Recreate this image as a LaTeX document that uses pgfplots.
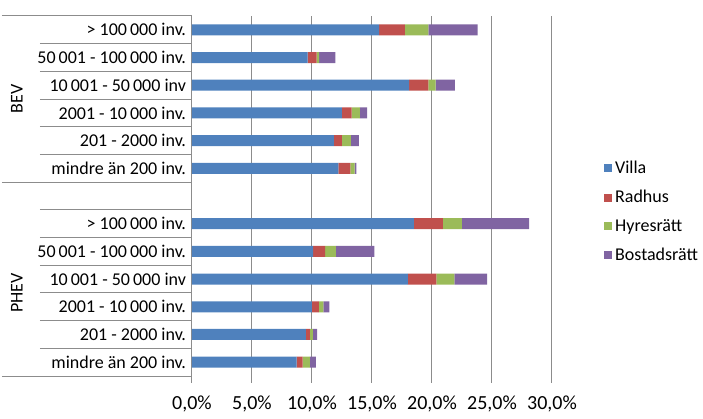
\documentclass[border=0pt]{standalone}
\usepackage{fontspec}
\setmainfont{Carlito}
\usepackage{pgfplots}
\pgfplotsset{compat=1.18}

\definecolor{villa}{HTML}{4F81BD}
\definecolor{radhus}{HTML}{C0504D}
\definecolor{hyres}{HTML}{9BBB59}
\definecolor{bostad}{HTML}{8064A2}
\definecolor{gridgray}{HTML}{8C8C8C}

\begin{document}
\begin{tikzpicture}
\path[use as bounding box] (-144pt,-31.5pt) rectangle (383.25pt,282pt);
\begin{axis}[
    at={(0,0)}, anchor=south west,
    scale only axis,
    width=270pt, height=270pt,
    xbar stacked,
    bar width=8.25pt,
    xmin=0, xmax=30,
    ymin=-0.5, ymax=12.5,
    clip=false,
    axis line style={draw=none},
    xtick={0,5,10,15,20,25,30},
    xticklabels={{0,0\%},{5,0\%},{10,0\%},{15,0\%},{20,0\%},{25,0\%},{30,0\%}},
    xtick pos=bottom,
    xtick align=outside,
    major tick length=5pt,
    xtick style={gridgray, line width=0.75pt},
    xticklabel style={font=\fontsize{15}{17}\selectfont, yshift=-6pt},
    ytick={0,1,2,3,4,5,7,8,9,10,11,12},
    yticklabels={mindre än 200 inv., 201 - 2000 inv., 2001 - 10\,000 inv., 10\,001 - 50\,000 inv, 50\,001 - 100\,000 inv., > 100\,000 inv.,
                 mindre än 200 inv., 201 - 2000 inv., 2001 - 10\,000 inv., 10\,001 - 50\,000 inv, 50\,001 - 100\,000 inv., > 100\,000 inv.},
    ytick style={draw=none},
    yticklabel style={font=\fontsize{13.5}{15}\selectfont, anchor=east, xshift=-1pt},
    xmajorgrids,
    major grid style={gridgray, line width=0.75pt},
    legend style={draw=none, at={(1.145,0.605)}, anchor=north west,
        font=\fontsize{13.5}{15}\selectfont, row sep=7pt,
        legend cell align=left, inner sep=0pt},
    legend image code/.code={\fill[#1] (0pt,-3pt) rectangle (6pt,3pt);},
]
\addplot[fill=villa, draw=none] coordinates {
    (8.72,0) (9.5,1) (10.0,2) (18.0,3) (10.1,4) (18.5,5)
    (12.2,7) (11.83,8) (12.5,9) (18.1,10) (9.64,11) (15.6,12)};
\addplot[fill=radhus, draw=none] coordinates {
    (0.5,0) (0.33,1) (0.58,2) (2.36,3) (1.0,4) (2.4,5)
    (1.0,7) (0.67,8) (0.8,9) (1.6,10) (0.75,11) (2.15,12)};
\addplot[fill=hyres, draw=none] coordinates {
    (0.61,0) (0.25,1) (0.37,2) (1.5,3) (0.9,4) (1.6,5)
    (0.35,7) (0.75,8) (0.7,9) (0.6,10) (0.21,11) (1.95,12)};
\addplot[fill=bostad, draw=none] coordinates {
    (0.5,0) (0.34,1) (0.5,2) (2.74,3) (3.2,4) (5.6,5)
    (0.15,7) (0.65,8) (0.6,9) (1.6,10) (1.35,11) (4.1,12)};
\legend{Villa, Radhus, Hyresrätt, Bostadsrätt}

% category axis line and label grid
\draw[gridgray, line width=0.75pt] (axis cs:0,-0.5) -- (axis cs:0,12.5);
\pgfplotsinvokeforeach{-0.5,6.5,12.5}{
    \draw[gridgray, line width=0.75pt] (axis cs:-15.85,#1) -- (axis cs:0,#1);}
\pgfplotsinvokeforeach{0.5,1.5,2.5,3.5,4.5,5.5,7.5,8.5,9.5,10.5,11.5}{
    \draw[gridgray, line width=0.75pt] (axis cs:-12.67,#1) -- (axis cs:0,#1);}
\node[rotate=90, font=\fontsize{13.5}{15}\selectfont] at (axis cs:-14.6,9.5) {BEV};
\node[rotate=90, font=\fontsize{13.5}{15}\selectfont] at (axis cs:-14.6,2.5) {PHEV};
\end{axis}
\end{tikzpicture}
\end{document}
